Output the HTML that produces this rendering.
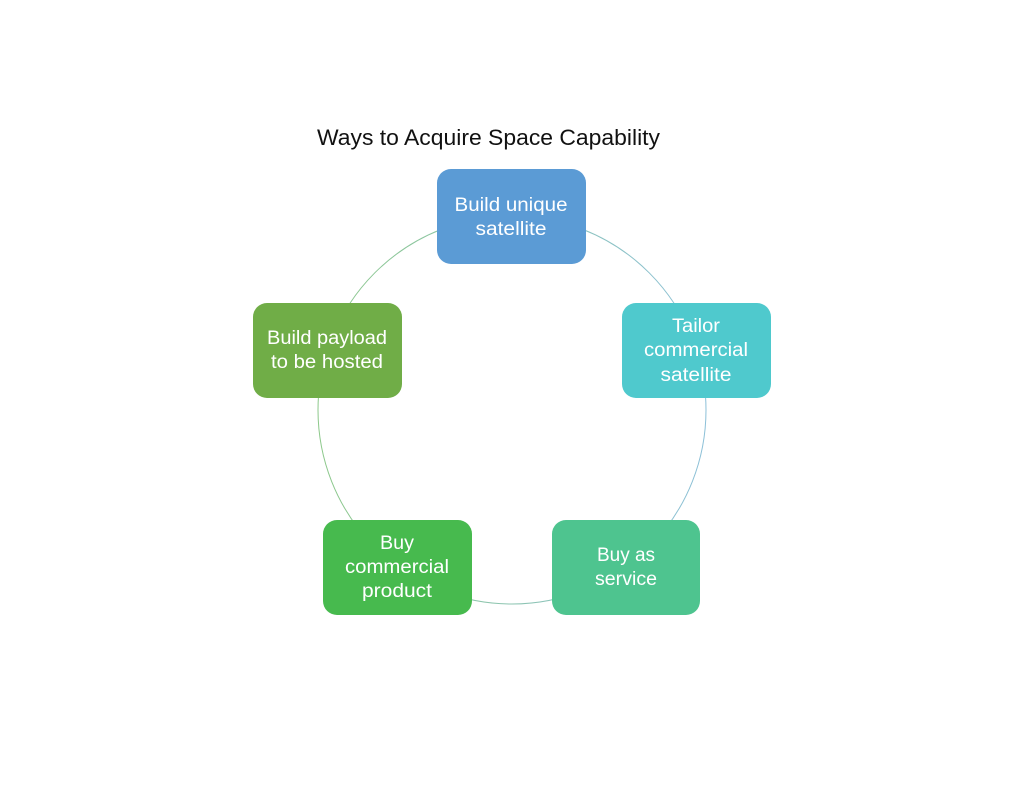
<!DOCTYPE html>
<html><head><meta charset="utf-8"><style>
html,body{margin:0;padding:0;background:#fff;}
svg{display:block;}
text{font-family:"Liberation Sans",sans-serif;}
</style></head><body>
<svg width="1024" height="791" viewBox="0 0 1024 791" xmlns="http://www.w3.org/2000/svg">
<defs><linearGradient id="g" x1="0" y1="0" x2="1" y2="0"><stop offset="0" stop-color="#8cc88a"/><stop offset="1" stop-color="#8cc0d8"/></linearGradient></defs>
<rect width="1024" height="791" fill="#fff"/>
<text x="317" y="145" font-size="22" fill="#111" textLength="343" lengthAdjust="spacingAndGlyphs">Ways to Acquire Space Capability</text>
<circle cx="512" cy="410" r="194" fill="none" stroke="url(#g)" stroke-width="1"/>
<g fill="#fff" font-size="19" text-anchor="middle">
<rect x="437" y="169" width="149" height="95" rx="14" fill="#5b9bd5"/>
<text x="511" y="211" textLength="113" lengthAdjust="spacingAndGlyphs">Build unique</text>
<text x="511" y="235" textLength="71" lengthAdjust="spacingAndGlyphs">satellite</text>

<rect x="622" y="303" width="149" height="95" rx="14" fill="#4fc9cd"/>
<text x="696" y="332" textLength="48" lengthAdjust="spacingAndGlyphs">Tailor</text>
<text x="696" y="356" textLength="104" lengthAdjust="spacingAndGlyphs">commercial</text>
<text x="696" y="381" textLength="71" lengthAdjust="spacingAndGlyphs">satellite</text>

<rect x="552" y="520" width="148" height="95" rx="14" fill="#4ec48f"/>
<text x="626" y="561" textLength="58" lengthAdjust="spacingAndGlyphs">Buy as</text>
<text x="626" y="585" textLength="62" lengthAdjust="spacingAndGlyphs">service</text>

<rect x="323" y="520" width="149" height="95" rx="14" fill="#47ba4e"/>
<text x="397" y="549" textLength="34" lengthAdjust="spacingAndGlyphs">Buy</text>
<text x="397" y="573" textLength="104" lengthAdjust="spacingAndGlyphs">commercial</text>
<text x="397" y="597" textLength="70" lengthAdjust="spacingAndGlyphs">product</text>

<rect x="253" y="303" width="149" height="95" rx="14" fill="#70ad47"/>
<text x="327" y="344" textLength="120" lengthAdjust="spacingAndGlyphs">Build payload</text>
<text x="327" y="368" textLength="112" lengthAdjust="spacingAndGlyphs">to be hosted</text>
</g>
</svg>
</body></html>
